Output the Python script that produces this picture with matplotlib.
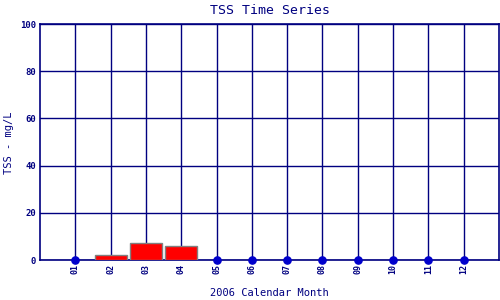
import matplotlib
matplotlib.use("Agg")
import matplotlib.pyplot as plt
import numpy as np

months = ["01", "02", "03", "04", "05", "06", "07", "08", "09", "10", "11", "12"]
tss = [0, 2.0, 7.1, 5.8, 0, 0, 0, 0, 0, 0, 0, 0]
yticks = [0, 20, 40, 60, 80, 100]

navy = "#000080"
fam = ["DejaVu Sans Mono"]

fig = plt.figure(figsize=(5, 3), dpi=100)
ax = fig.add_axes([40/500, 40/300, 459/500, 236/300])

x = np.arange(1, len(months) + 1)
vals = np.array(tss)
ax.set_xlim(0, 13)
ax.set_ylim(0, 100)
ax.set_xticks(x)
ax.set_yticks(yticks)
ax.grid(True, color=navy, linewidth=1.0)
ax.set_axisbelow(True)

pos = vals > 0
ax.bar(x[pos], vals[pos], width=0.9, color="#ff0000", edgecolor="#808080",
       linewidth=1.0, zorder=3)
ax.plot(x[~pos], vals[~pos], "o", color="#0000cc", markersize=5.2,
        clip_on=False, zorder=4)

for s in ax.spines.values():
    s.set_color(navy)
    s.set_linewidth(1.2)

ax.set_xticklabels(months, rotation=90, fontsize=6, family=fam, color=navy,
                   fontweight="bold")
ax.set_yticklabels([str(t) for t in yticks], fontsize=6.5, family=fam,
                   color=navy, fontweight="bold")
ax.tick_params(length=0, pad=3)

ax.set_title("TSS Time Series", fontsize=9.5, family=fam, color=navy, pad=7)
ax.set_xlabel("2006 Calendar Month", fontsize=7.5, family=fam, color=navy,
              labelpad=10)
ax.set_ylabel("TSS - mg/L", fontsize=7.5, family=fam, color=navy)
ax.yaxis.set_label_coords(-0.056, 0.496)

fig.savefig("out.png", dpi=100)
